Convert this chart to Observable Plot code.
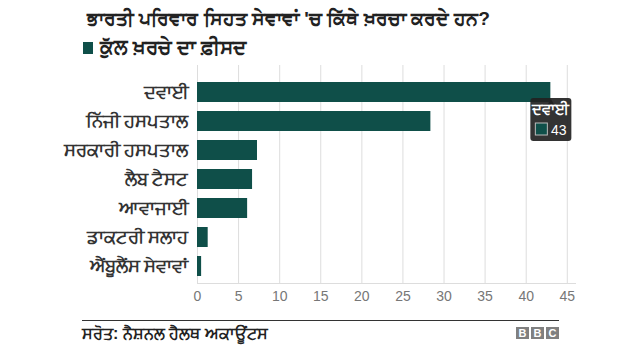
<!DOCTYPE html>
<html>
<head>
<meta charset="utf-8">
<script src="https://cdn.jsdelivr.net/npm/d3@7"></script>
<script src="https://cdn.jsdelivr.net/npm/@observablehq/plot@0.6"></script>
<style>
  body { margin: 0; background: #fff; font-family: "Liberation Sans", Arial, sans-serif; }
  #wrap { position: relative; width: 640px; height: 360px; }
  #header { position: relative; height: 60px; }
  #title { position: absolute; left: 87px; top: 7px; font-size: 19.2px; line-height: 24px; font-weight: bold; color: #222; white-space: nowrap; }
  #legend { position: absolute; left: 83px; top: 35px; font-size: 19.5px; line-height: 24px; font-weight: bold; color: #222; white-space: nowrap; display: flex; align-items: center; }
  #legend .sw { display: inline-block; width: 10px; height: 12px; background: #0f4f49; margin-right: 7px; margin-top: 1px; }
  #chart svg { display: block; }
  #footer { position: absolute; left: 82px; top: 320px; width: 477px; border-top: 1.5px solid #333; }
  #source { position: absolute; left: 0; top: 3px; font-size: 16px; line-height: 20px; font-weight: bold; color: #222; white-space: nowrap; }
  #bbc { position: absolute; right: 0; top: 6px; display: flex; gap: 2px; }
  #bbc span { display: inline-block; width: 13px; height: 12px; background: #808080; color: #fff; font-size: 11px; font-weight: bold; line-height: 12px; text-align: center; }
</style>
</head>
<body>
<div id="wrap">
  <div id="header">
    <div id="title"></div>
    <div id="legend"><span class="sw"></span><span id="legendText"></span></div>
  </div>
  <div id="chart"></div>
  <div id="footer"><div id="source"></div><div id="bbc"><span>B</span><span>B</span><span>C</span></div></div>
</div>
<script>
const titleText = "ਭਾਰਤੀ ਪਰਿਵਾਰ ਸਿਹਤ ਸੇਵਾਵਾਂ 'ਚ ਕਿੱਥੇ ਖ਼ਰਚਾ ਕਰਦੇ ਹਨ?";
const legendLabel = "ਕੁੱਲ ਖ਼ਰਚੇ ਦਾ ਫ਼ੀਸਦ";
const sourceText = "ਸਰੋਤ: ਨੈਸ਼ਨਲ ਹੈਲਥ ਅਕਾਊਂਟਸ";
const categories = ["ਦਵਾਈ", "ਨਿੱਜੀ ਹਸਪਤਾਲ", "ਸਰਕਾਰੀ ਹਸਪਤਾਲ", "ਲੈਬ ਟੈਸਟ", "ਆਵਾਜਾਈ", "ਡਾਕਟਰੀ ਸਲਾਹ", "ਐਂਬੂਲੈਂਸ ਸੇਵਾਵਾਂ"];
const values = [43, 28.4, 7.3, 6.7, 6.1, 1.3, 0.5];
const xTicks = [0, 5, 10, 15, 20, 25, 30, 35, 40, 45];
const highlighted = "ਦਵਾਈ";

document.getElementById("title").textContent = titleText;
document.getElementById("legendText").textContent = legendLabel;
document.getElementById("source").textContent = sourceText;

const data = categories.map((name, i) => ({name, value: values[i]}));
const tipData = data.filter(d => d.name === highlighted);
const barColor = "#0f4f49";

const plot = Plot.plot({
  width: 640,
  height: 245,
  marginTop: 5,
  marginBottom: 22,
  marginLeft: 197,
  marginRight: 65,
  style: {fontFamily: "'Liberation Sans', Arial, sans-serif", fontSize: "14px", color: "#333", background: "#fff"},
  x: {domain: [0, 46], label: null},
  y: {domain: categories, label: null, paddingInner: 0.295, paddingOuter: 0.305, align: 0.71},
  marks: [
    Plot.gridX(xTicks, {stroke: "#ddd", strokeOpacity: 1}),
    Plot.frame({anchor: "bottom", stroke: "#ddd"}),
    Plot.axisX(xTicks, {tickSize: 0, tickPadding: 8, fill: "#777", fontSize: 14}),
    Plot.axisY({tickSize: 0, tickPadding: 9, fill: "#333", fontSize: 17.5, fontWeight: "bold"}),
    Plot.barX(data, {x: "value", y: "name", fill: barColor}),
    // tooltip
    Plot.rect(tipData, {x1: "value", x2: "value", y: "name", insetLeft: -20, insetRight: -21, insetTop: 16, insetBottom: -39, fill: "#222", fillOpacity: 0.92, rx: 3}),
    Plot.dot(tipData, {x: "value", y: "name", symbol: "triangle", r: 3.5, fill: "#222", dy: 12}),
    Plot.text(tipData, {x: "value", y: "name", text: "name", fill: "#fff", fontWeight: "bold", fontSize: 15, dy: 17}),
    Plot.rect(tipData, {x1: "value", x2: "value", y: "name", insetLeft: -15, insetRight: 3, insetTop: 41, insetBottom: -33, fill: barColor, stroke: "#bbb", strokeWidth: 1}),
    Plot.text(tipData, {x: "value", y: "name", text: d => String(d.value), fill: "#fff", fontSize: 14, dx: 8, dy: 38})
  ]
});
document.getElementById("chart").appendChild(plot);
</script>
</body>
</html>
